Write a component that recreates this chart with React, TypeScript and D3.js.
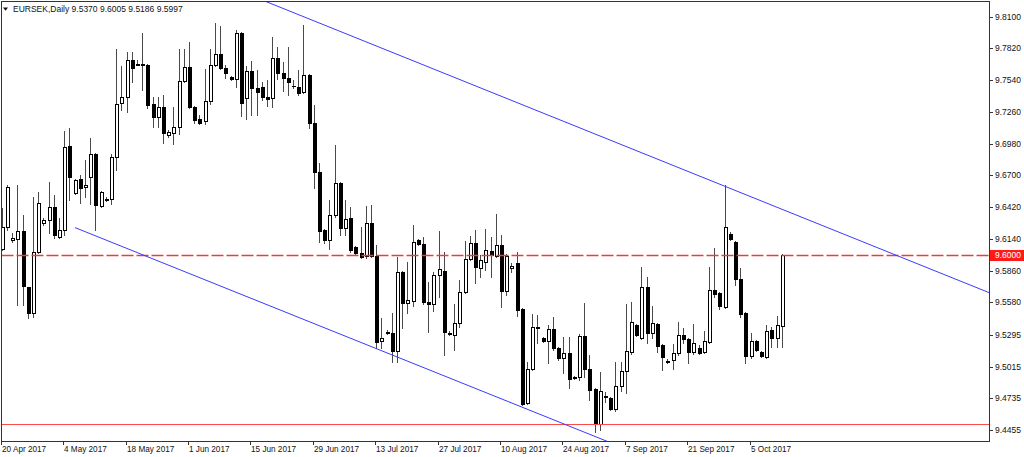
import React from "react";
import * as d3 from "d3";

const symbolTitle = "EURSEK,Daily";
const lastQuote = ["9.5370", "9.6005", "9.5186", "9.5997"];
const firstDay = new Date(2017, 3, 20);
const lastDay = new Date(2017, 9, 12);

const opens = [
  9.6051, 9.6245, 9.613, 9.6139, 9.621, 9.5716, 9.5486, 9.6024, 9.628, 9.6307,
  9.6421, 9.6157, 9.6218, 9.6959, 9.6545, 9.6668, 9.6598, 9.6686, 9.6889, 9.643,
  9.6487, 9.6492, 9.6862, 9.7339, 9.7392, 9.7718, 9.7678, 9.7682, 9.7674, 9.733,
  9.7215, 9.7303, 9.7056, 9.7074, 9.7127, 9.7533, 9.7656, 9.7303, 9.7197, 9.718,
  9.7356, 9.7674, 9.7771, 9.7647, 9.7568, 9.755, 9.7956, 9.7383, 9.7621, 9.7471,
  9.748, 9.7392, 9.7383, 9.7735, 9.7603, 9.7559, 9.7489, 9.748, 9.7436, 9.7586,
  9.7162, 9.673, 9.6218, 9.613, 9.6351, 9.6633, 9.6236, 9.6324, 9.6069, 9.6016,
  9.5989, 9.628, 9.5989, 9.5239, 9.5314, 9.531, 9.5151, 9.5848, 9.5575, 9.5592,
  9.613, 9.6095, 9.5583, 9.5566, 9.5822, 9.5857, 9.5306, 9.5292, 9.5398, 9.5672,
  9.5963, 9.6104, 9.5883, 9.5936, 9.6033, 9.5989, 9.6086, 9.568, 9.5883, 9.5927,
  9.5522, 9.4693, 9.4993, 9.5358, 9.5266, 9.5239, 9.5345, 9.5178, 9.5089, 9.5134,
  9.4917, 9.4922, 9.5284, 9.4993, 9.4816, 9.4507, 9.475, 9.4737, 9.464, 9.4842,
  9.4975, 9.5142, 9.5381, 9.5266, 9.5716, 9.531, 9.5389, 9.5204, 9.5059, 9.5072,
  9.5134, 9.5292, 9.5257, 9.5142, 9.5178, 9.5142, 9.5231, 9.5689, 9.5663, 9.5539,
  9.6183, 9.6113, 9.5786, 9.5486, 9.5107, 9.5239, 9.5142, 9.5098, 9.5336, 9.5266,
  9.537,
];
const highs = [
  9.6412, 9.6615, 9.6192, 9.6615, 9.6351, 9.5716, 9.6509, 9.6554, 9.6324, 9.6642,
  9.6527, 9.6324, 9.7092, 9.7118, 9.6668, 9.6704, 9.6836, 9.703, 9.6898, 9.6562,
  9.6509, 9.6889, 9.7815, 9.7665, 9.7788, 9.7788, 9.7718, 9.7956, 9.7682, 9.7392,
  9.7392, 9.7409, 9.71, 9.7303, 9.7815, 9.7815, 9.7877, 9.7312, 9.7233, 9.7638,
  9.7815, 9.8044, 9.8018, 9.7674, 9.7577, 9.7982, 9.7965, 9.7665, 9.7709, 9.763,
  9.7524, 9.7541, 9.7921, 9.7832, 9.77, 9.7832, 9.7541, 9.763, 9.8027, 9.7594,
  9.7321, 9.6809, 9.6227, 9.6483, 9.6968, 9.6642, 9.6483, 9.6421, 9.6077, 9.6245,
  9.643, 9.6439, 9.6086, 9.5442, 9.5336, 9.5486, 9.598, 9.5857, 9.5936, 9.6263,
  9.6139, 9.6157, 9.576, 9.5848, 9.621, 9.6024, 9.5328, 9.5566, 9.5777, 9.6121,
  9.6166, 9.6218, 9.5998, 9.6227, 9.6157, 9.636, 9.6174, 9.6007, 9.5927, 9.6024,
  9.553, 9.5054, 9.5478, 9.5469, 9.5275, 9.5381, 9.5451, 9.5187, 9.5275, 9.5275,
  9.4931, 9.5301, 9.5575, 9.5116, 9.4825, 9.4966, 9.479, 9.4745, 9.5054, 9.5054,
  9.5566, 9.5583, 9.5389, 9.5892, 9.5804, 9.5548, 9.5398, 9.5213, 9.5081, 9.5213,
  9.5407, 9.5354, 9.5266, 9.5389, 9.5204, 9.5328, 9.5892, 9.606, 9.5672, 9.6615,
  9.6201, 9.6121, 9.5883, 9.5495, 9.531, 9.5248, 9.5151, 9.5381, 9.5363, 9.546,
  9.6005,
];
const lows = [
  9.6042, 9.6218, 9.6113, 9.5557, 9.5557, 9.5442, 9.5451, 9.6016, 9.6263, 9.6192,
  9.6148, 9.6148, 9.6174, 9.6483, 9.6536, 9.6457, 9.6509, 9.6448, 9.6218, 9.6421,
  9.6474, 9.6448, 9.6748, 9.7277, 9.7259, 9.7524, 9.7674, 9.7453, 9.7294, 9.7127,
  9.7127, 9.6986, 9.7039, 9.6977, 9.7065, 9.7524, 9.7294, 9.7162, 9.7153, 9.7153,
  9.733, 9.7665, 9.7638, 9.7559, 9.7541, 9.748, 9.7224, 9.7197, 9.7233, 9.7233,
  9.7365, 9.7312, 9.7303, 9.755, 9.7444, 9.7409, 9.7471, 9.7409, 9.7427, 9.7118,
  9.6589, 9.6113, 9.6104, 9.6051, 9.6333, 9.6174, 9.6174, 9.6024, 9.6007, 9.5971,
  9.5971, 9.598, 9.5178, 9.5178, 9.5301, 9.5054, 9.5054, 9.5354, 9.5486, 9.5548,
  9.6086, 9.5566, 9.5319, 9.5504, 9.5627, 9.5116, 9.5292, 9.516, 9.5363, 9.5663,
  9.5954, 9.5751, 9.5804, 9.5866, 9.5804, 9.598, 9.5539, 9.5645, 9.5848, 9.546,
  9.4675, 9.4684, 9.4984, 9.5222, 9.5231, 9.5045, 9.516, 9.5072, 9.4957, 9.4825,
  9.4904, 9.4896, 9.4922, 9.4719, 9.4437, 9.4454, 9.4701, 9.4631, 9.4622, 9.4798,
  9.4781, 9.5125, 9.5284, 9.5257, 9.5222, 9.5266, 9.5142, 9.4984, 9.5045, 9.4993,
  9.5116, 9.5222, 9.5045, 9.5125, 9.5125, 9.5134, 9.5222, 9.5627, 9.5522, 9.553,
  9.613, 9.5733, 9.5451, 9.5045, 9.5089, 9.5151, 9.5098, 9.5089, 9.5187, 9.5187,
  9.5186,
];
const closes = [
  9.6245, 9.6598, 9.6148, 9.621, 9.5724, 9.5486, 9.6024, 9.6457, 9.6307, 9.6421,
  9.6174, 9.6218, 9.6951, 9.6686, 9.6659, 9.6589, 9.6615, 9.6889, 9.6439, 9.6554,
  9.6496, 9.6862, 9.733, 9.7392, 9.7718, 9.7647, 9.7687, 9.7678, 9.7321, 9.7215,
  9.7303, 9.7074, 9.7083, 9.7127, 9.7533, 9.7656, 9.7303, 9.7189, 9.7162, 9.7356,
  9.7674, 9.7771, 9.7647, 9.7603, 9.755, 9.7956, 9.7339, 9.7621, 9.7471, 9.7436,
  9.7392, 9.7374, 9.7735, 9.7603, 9.7559, 9.7524, 9.7486, 9.7427, 9.7586, 9.7162,
  9.673, 9.621, 9.613, 9.6351, 9.6633, 9.6236, 9.6315, 9.6042, 9.6016, 9.598,
  9.628, 9.5989, 9.5231, 9.5266, 9.5323, 9.5151, 9.5848, 9.5575, 9.5601, 9.6113,
  9.6095, 9.5583, 9.5566, 9.5822, 9.5874, 9.5319, 9.5314, 9.5398, 9.5672, 9.5963,
  9.6104, 9.5892, 9.5954, 9.6042, 9.5998, 9.6086, 9.568, 9.5989, 9.5901, 9.5513,
  9.4684, 9.4993, 9.5363, 9.5367, 9.5239, 9.5345, 9.5178, 9.5089, 9.5134, 9.4904,
  9.4926, 9.5284, 9.4993, 9.4807, 9.4507, 9.4798, 9.4759, 9.464, 9.4842, 9.4975,
  9.5151, 9.5407, 9.5292, 9.5716, 9.531, 9.5398, 9.5195, 9.5098, 9.5067, 9.5134,
  9.5292, 9.5257, 9.5142, 9.5222, 9.5134, 9.5239, 9.5689, 9.5654, 9.5548, 9.6245,
  9.6139, 9.5786, 9.5478, 9.5107, 9.5239, 9.516, 9.5107, 9.5328, 9.5266, 9.5381,
  9.5997,
];

const priceTicks = [
  9.81, 9.782, 9.754, 9.726, 9.698, 9.67, 9.642, 9.614, 9.586, 9.558, 9.5295,
  9.5015, 9.4735, 9.4455,
];
const dateTickLabels = [
  "20 Apr 2017", "4 May 2017", "18 May 2017", "1 Jun 2017", "15 Jun 2017",
  "29 Jun 2017", "13 Jul 2017", "27 Jul 2017", "10 Aug 2017", "24 Aug 2017",
  "7 Sep 2017", "21 Sep 2017", "5 Oct 2017",
];
const dashedLevel = 9.6;
const solidLevel = 9.4505;
// channel anchors: [bar index, price]
const upperChannel = [[50, 9.8247], [139, 9.6604]];
const lowerChannel = [[14, 9.624], [100, 9.4656]];

const W = 1024;
const H = 457;
const PL = 1.5, PT = 1.5, PR = 989.5, PB = 441.5;
const FONT = "Tahoma, 'Liberation Sans', Arial, sans-serif";

export default function App() {
  // trading calendar (broker with Sunday bars): all days except Saturday
  const days = d3.timeDay
    .range(firstDay, d3.timeDay.offset(lastDay, 1))
    .filter((d) => d.getDay() !== 6);
  const fmt = d3.timeFormat("%-d %b %Y");
  const n = opens.length;

  const x = d3.scaleLinear().domain([0, n - 1]).range([2.2, 782.2]);
  const y = d3.scaleLinear().domain([9.4455, 9.81]).range([430.0, 16.7]);

  const col = (i: number) => Math.floor(x(i));

  const channel = (pts: number[][]) => {
    const x1 = x(pts[0][0]), y1 = y(pts[0][1]);
    const x2 = x(pts[1][0]), y2 = y(pts[1][1]);
    const s = (y2 - y1) / (x2 - x1);
    const xe = 1010;
    return { x1, y1, x2: xe, y2: y1 + s * (xe - x1) };
  };
  const up = channel(upperChannel);
  const lo = channel(lowerChannel);

  const dateTicks = days
    .map((d, i) => ({ i, label: fmt(d) }))
    .filter((t) => dateTickLabels.includes(t.label));

  const yDash = Math.round(y(dashedLevel)) + 0.5;
  const ySolid = Math.round(y(solidLevel)) + 0.5;

  return (
    <svg
      width={W}
      height={H}
      style={{ position: "absolute", left: 0, top: 0, display: "block", background: "#fff" }}
      fontFamily={FONT}
    >
      <defs>
        <clipPath id="plot">
          <rect x={PL} y={PT} width={PR - PL} height={PB - PT} />
        </clipPath>
      </defs>
      <rect x={0} y={0} width={W} height={H} fill="#fff" />

      {/* candles */}
      <g shapeRendering="crispEdges">
        {opens.map((o, i) => {
          const c = closes[i];
          const c0 = col(i);
          const yh = Math.round(y(highs[i]));
          const yl = Math.round(y(lows[i]));
          const top = Math.round(y(Math.max(o, c)));
          const bot = Math.round(y(Math.min(o, c)));
          const bh = Math.max(1, bot - top + 1);
          const bull = c > o;
          return (
            <g key={i}>
              <rect x={c0} y={yh} width={1} height={Math.max(1, yl - yh + 1)} fill="#4a4a4a" />
              <rect x={c0 - 1} y={top} width={4} height={bh} fill="#000" />
              {bull && bh >= 3 ? (
                <rect x={c0} y={top + 1} width={2} height={bh - 2} fill="#fff" />
              ) : null}
            </g>
          );
        })}
      </g>

      {/* horizontal levels and channel */}
      <g clipPath="url(#plot)">
        <line x1={PL} x2={PR} y1={yDash} y2={yDash} stroke="#f03a3a" strokeWidth={1.3} strokeDasharray="12 3" />
        <line x1={PL} x2={PR} y1={ySolid} y2={ySolid} stroke="#ff4a4a" strokeWidth={1.2} />
        <line x1={up.x1} y1={up.y1} x2={up.x2} y2={up.y2} stroke="#3a3aff" strokeWidth={1} />
        <line x1={lo.x1} y1={lo.y1} x2={lo.x2} y2={lo.y2} stroke="#3a3aff" strokeWidth={1} />
      </g>

      {/* frame */}
      <rect x={PL} y={PT} width={PR - PL} height={PB - PT} fill="none" stroke="#333" strokeWidth={1} shapeRendering="crispEdges" />

      {/* price axis */}
      <g fontSize={8.5} fill="#111">
        {priceTicks.map((p) => {
          const yy = Math.round(y(p)) + 0.5;
          return (
            <g key={p}>
              <line x1={PR} x2={993} y1={yy} y2={yy} stroke="#333" shapeRendering="crispEdges" />
              <text x={995} y={yy} dy="0.35em">{p.toFixed(4)}</text>
            </g>
          );
        })}
        <rect x={990} y={yDash - 5.5} width={34} height={11} fill="#ff1a1a" />
        <text x={995} y={yDash} dy="0.35em" fill="#fff">{dashedLevel.toFixed(4)}</text>
      </g>

      {/* time axis */}
      <g fontSize={8.2} fill="#111">
        {dateTicks.map((t) => {
          const xx = Math.max(1, col(t.i) - 1) + 0.5;
          return (
            <g key={t.label}>
              <line x1={xx} x2={xx} y1={PB} y2={445} stroke="#333" shapeRendering="crispEdges" />
              <text x={xx + 0.5} y={451.5}>{t.label}</text>
            </g>
          );
        })}
      </g>

      {/* title */}
      <rect x={2} y={2} width={176} height={12} fill="#fff" />
      <path d="M3,7.5 L8,7.5 L5.5,10.8 Z" fill="#111" />
      <text x={13} y={11.5} fontSize={8.5} fill="#111">
        {symbolTitle + "  " + lastQuote.join(" ")}
      </text>
    </svg>
  );
}
